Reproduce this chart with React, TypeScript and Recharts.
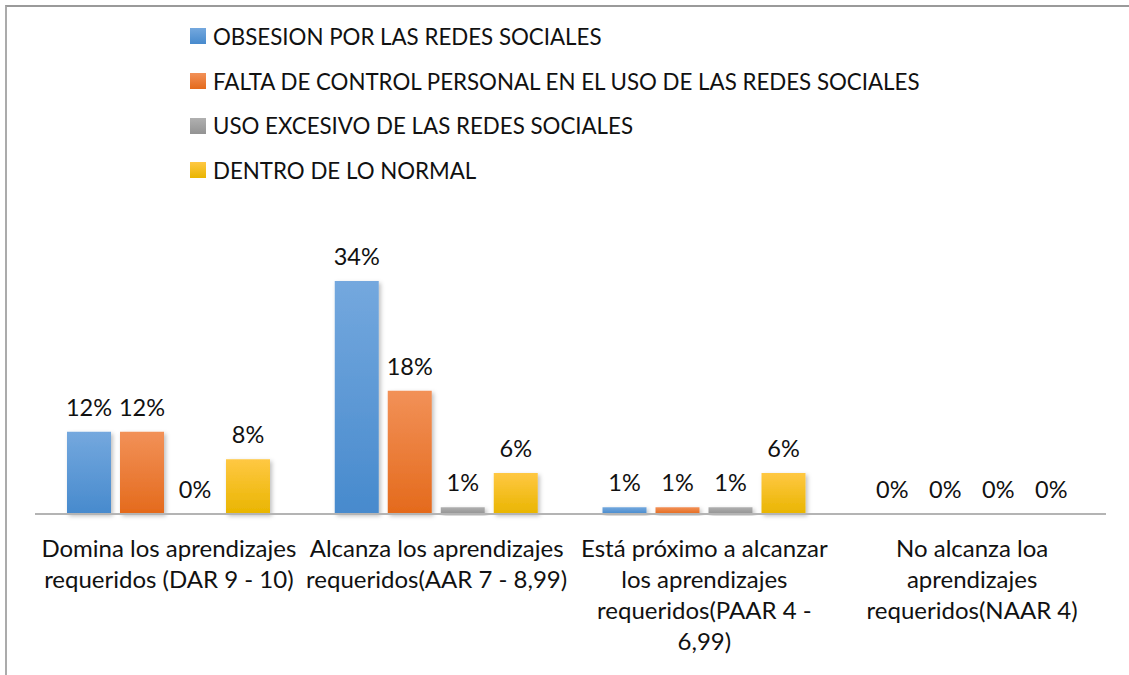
import { BarChart, Bar, XAxis, YAxis, LabelList, Legend } from 'recharts';

const categories = [
  'Domina los aprendizajes\nrequeridos (DAR 9 - 10)',
  'Alcanza los aprendizajes\nrequeridos(AAR 7 - 8,99)',
  'Está próximo a alcanzar\nlos aprendizajes\nrequeridos(PAAR 4 -\n6,99)',
  'No alcanza loa\naprendizajes\nrequeridos(NAAR 4)',
];

const obsesion = [12, 34, 1, 0];
const faltaControl = [12, 18, 1, 0];
const usoExcesivo = [0, 1, 1, 0];
const dentroNormal = [8, 6, 6, 0];

const seriesNames = [
  'OBSESION POR LAS REDES SOCIALES',
  'FALTA DE CONTROL PERSONAL EN EL USO DE LAS REDES SOCIALES',
  'USO EXCESIVO DE LAS REDES SOCIALES',
  'DENTRO DE LO NORMAL',
];

const FONT = 'Lato, Carlito, Calibri, sans-serif';

// top / bottom colours of the excel-style gradient
const gradients = [
  { id: 'gBlue', top: '#74a8de', bottom: '#478acd' },
  { id: 'gOrange', top: '#f29158', bottom: '#e46a1c' },
  { id: 'gGray', top: '#b0b0b0', bottom: '#939393' },
  { id: 'gYellow', top: '#ffc843', bottom: '#e9b500' },
];

const data = categories.map((name, i) => ({
  name,
  s0: obsesion[i],
  s1: faltaControl[i],
  s2: usoExcesivo[i],
  s3: dentroNormal[i],
}));

const CategoryTick = (props: any) => {
  const { x, y, payload } = props;
  const lines = String(payload.value).split('\n');
  return (
    <text x={x} y={y + 35} textAnchor="middle" fill="#111" fontSize={24} fontFamily={FONT}>
      {lines.map((line, i) => (
        <tspan key={i} x={x} dy={i === 0 ? 0 : 31}>
          {line}
        </tspan>
      ))}
    </text>
  );
};

const LegendContent = () => (
  <div style={{ fontFamily: FONT, fontSize: 22.3, color: '#111' }}>
    {seriesNames.map((name, i) => (
      <div
        key={name}
        style={{ display: 'flex', alignItems: 'center', height: 44.7 }}
      >
        <span
          style={{
            width: 16,
            height: 16,
            marginRight: 7,
            background: `linear-gradient(${gradients[i].top}, ${gradients[i].bottom})`,
            display: 'inline-block',
          }}
        />
        <span>{name}</span>
      </div>
    ))}
  </div>
);

export default function App() {
  return (
    <div style={{ position: 'absolute', left: 0, top: 0, width: 1129, height: 675, background: '#fff' }}>
      <div
        style={{
          position: 'absolute',
          left: 5,
          top: 5,
          width: 1122,
          height: 668,
          borderLeft: '2px solid #ababab',
          borderTop: '2px solid #9a9a9a',
        }}
      />
      <div style={{ position: 'absolute', left: 0, top: 0 }}>
        <BarChart
          width={1129}
          height={675}
          data={data}
          margin={{ top: 240, right: 23, left: 35, bottom: 0 }}
          barSize={44}
          barGap={9}
        >
          <defs>
            {gradients.map((g) => (
              <linearGradient key={g.id} id={g.id} x1="0" y1="0" x2="0" y2="1">
                <stop offset="0%" stopColor={g.top} />
                <stop offset="100%" stopColor={g.bottom} />
              </linearGradient>
            ))}
            <filter id="shadow" x="-20%" y="-20%" width="140%" height="140%">
              <feDropShadow dx="2" dy="2" stdDeviation="2" floodColor="#000" floodOpacity="0.25" />
            </filter>
          </defs>
          <XAxis
            dataKey="name"
            interval={0}
            height={161}
            tickLine={false}
            axisLine={{ stroke: '#b4b4b4', strokeWidth: 2 }}
            tick={<CategoryTick />}
          />
          <YAxis hide domain={[0, 40]} />
          <Legend
            layout="horizontal"
            verticalAlign="middle"
            align="center"
            content={<LegendContent />}
            wrapperStyle={{ position: 'absolute', left: 190, top: 14, width: 800, height: 180 }}
          />
          {['s0', 's1', 's2', 's3'].map((key, i) => (
            <Bar
              key={key}
              dataKey={key}
              name={seriesNames[i]}
              fill={`url(#${gradients[i].id})`}
              filter="url(#shadow)"
              minPointSize={0.01}
              isAnimationActive={false}
            >
              <LabelList
                dataKey={key}
                position="top"
                offset={16}
                formatter={(v: any) => `${v}%`}
                fill="#111"
                fontSize={23.5}
                fontFamily={FONT}
              />
            </Bar>
          ))}
        </BarChart>
      </div>
    </div>
  );
}
